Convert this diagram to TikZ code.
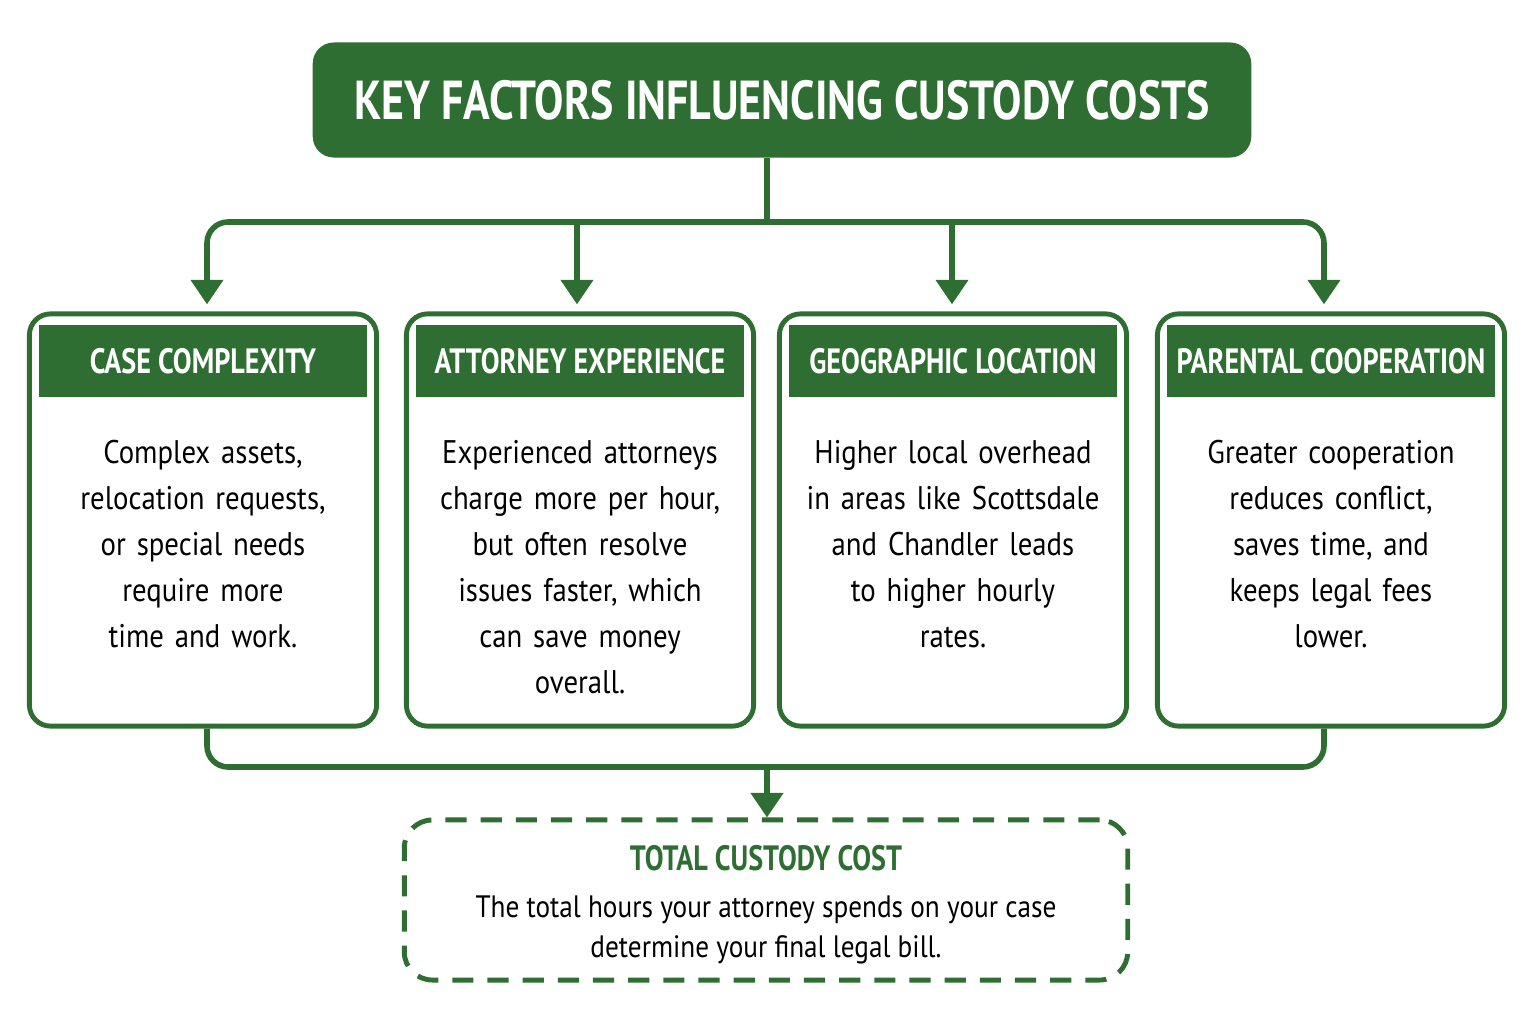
\documentclass[tikz,border=0pt]{standalone}
\usepackage{fontspec}
\setmainfont{PT Sans}
\newfontfamily\headfont[FakeStretch=0.8]{PT Sans Bold}
\newfontfamily\bodyfont[FakeStretch=0.88]{PT Sans}
\definecolor{custgreen}{HTML}{2F6E32}
\usetikzlibrary{arrows.meta, calc, positioning}
\tikzset{
  factor/.style={draw=custgreen, line width=1.4pt, rounded corners=6pt, minimum width=3.47cm, minimum height=4.12cm},
  band/.style={fill=custgreen, text=white, font=\headfont\fontsize{10}{12}\selectfont, minimum width=3.27cm, minimum height=0.71cm, inner sep=0pt},
  body/.style={text width=3.4cm, align=center, font=\bodyfont\fontsize{9.3}{13.1}\selectfont},
  link/.style={custgreen, line width=1.6pt, rounded corners=6pt},
  tip/.style={-{Triangle[length=7pt,width=9pt]}}
}
\begin{document}
\begin{tikzpicture}[x=0.01cm, y=-0.01cm]
  \useasboundingbox (0,0) rectangle (1535,1024);
  % title
  \node[fill=custgreen, rounded corners=6pt, minimum width=9.38cm, minimum height=1.15cm, text=white,
        font=\headfont\fontsize{15.6}{18}\selectfont] (title) at (782,100) {KEY FACTORS INFLUENCING CUSTODY COSTS};
  % factor boxes
  \foreach \n/\cx/\head/\txt in {
    complexity/203/CASE COMPLEXITY/{Complex assets,\\relocation requests,\\or special needs\\require more\\time and work.},
    experience/580/ATTORNEY EXPERIENCE/{Experienced attorneys\\charge more per hour,\\but often resolve\\issues faster, which\\can save money\\overall.},
    location/953/GEOGRAPHIC LOCATION/{Higher local overhead\\in areas like Scottsdale\\and Chandler leads\\to higher hourly\\rates.},
    cooperation/1331/PARENTAL COOPERATION/{Greater cooperation\\reduces conflict,\\saves time, and\\keeps legal fees\\lower.}}
  {
    \node[factor] (\n) at (\cx,520) {};
    \node[band] (\n-head) at (\cx,361) {\head};
    \node[body, anchor=north] (\n-text) at (\cx,428) {\txt};
  }
  % total
  \node[draw=custgreen, dashed, dash pattern=on 6pt off 4pt, line width=1.4pt, rounded corners=8pt,
        minimum width=7.23cm, minimum height=1.6cm] (total) at (766,900) {};
  \node[text=custgreen, font=\headfont\fontsize{10}{12}\selectfont] (total-head) at (766,858) {TOTAL CUSTODY COST};
  \node[align=center, font=\bodyfont\fontsize{8.8}{11.4}\selectfont, below=0pt of total-head] (total-text)
    {The total hours your attorney spends on your case\\determine your final legal bill.};
  % connectors
  \coordinate (split) at (767,222);
  \coordinate (join) at (767,767);
  \draw[link] (title.south -| split) -- (split);
  \draw[link, tip] (split) -| ([yshift=2pt]complexity.north -| 207,0);
  \draw[link, tip] (split) -| ([yshift=2pt]cooperation.north -| 1324,0);
  \draw[link, tip] (577,222) -- ([yshift=2pt]experience.north -| 577,0);
  \draw[link, tip] (952,222) -- ([yshift=2pt]location.north -| 952,0);
  \draw[link] (complexity.south -| 207,0) |- (join);
  \draw[link] (cooperation.south -| 1324,0) |- (join);
  \draw[link, tip] (join) -- (total.north -| join);
\end{tikzpicture}
\end{document}
